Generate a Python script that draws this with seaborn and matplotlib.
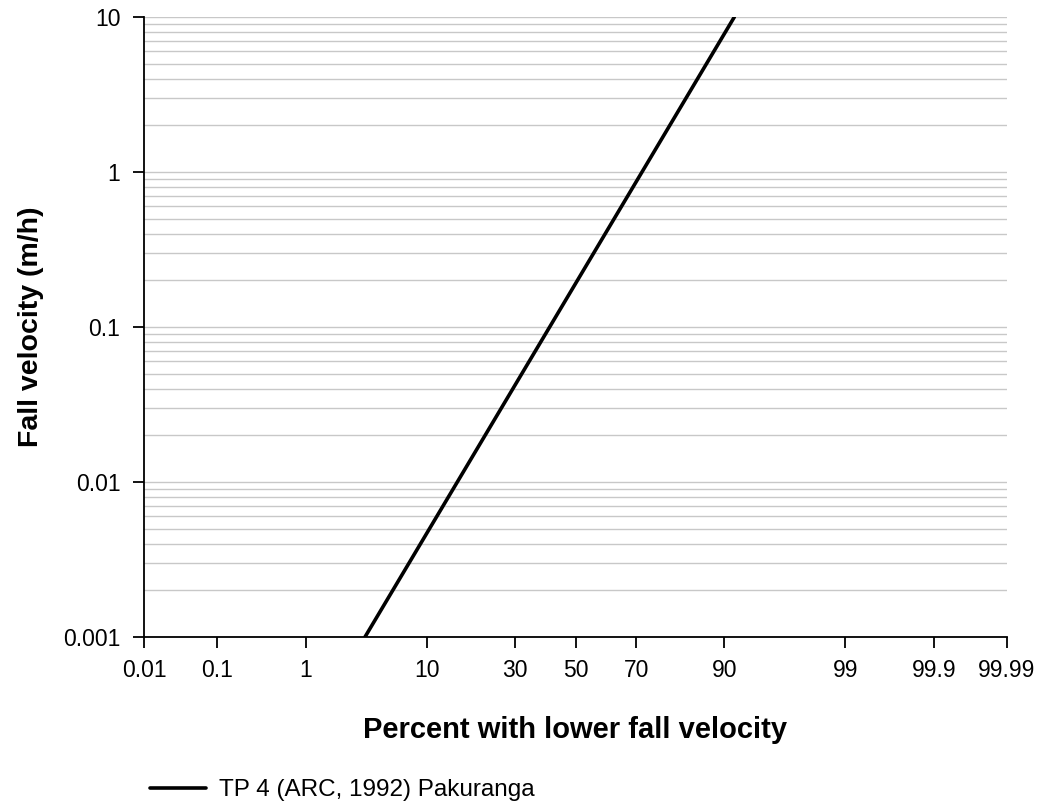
import numpy as np
import pandas as pd
import matplotlib
matplotlib.use("Agg")
import matplotlib.pyplot as plt
import seaborn as sns
from statistics import NormalDist
from matplotlib.ticker import FixedLocator, FixedFormatter, LogLocator, NullFormatter

# Data
percent = [3.48, 91.45]
velocity = [0.001, 10.0]
series_name = "TP 4 (ARC, 1992) Pakuranga"
x_ticks = [0.01, 0.1, 1, 10, 30, 50, 70, 90, 99, 99.9, 99.99]
x_tick_labels = ["0.01", "0.1", "1", "10", "30", "50", "70", "90", "99", "99.9", "99.99"]
y_ticks = [0.001, 0.01, 0.1, 1, 10]
y_tick_labels = ["0.001", "0.01", "0.1", "1", "10"]

df = pd.DataFrame({"percent": percent, "velocity": velocity, "series": series_name})

_nd = NormalDist()

def fwd(p):
    p = np.asarray(p, dtype=float)
    q = np.clip(p / 100.0, 1e-9, 1 - 1e-9)
    return np.vectorize(_nd.inv_cdf, otypes=[float])(q) if q.size else q

def inv(z):
    z = np.asarray(z, dtype=float)
    return 100.0 * np.vectorize(_nd.cdf, otypes=[float])(z) if z.size else z

sns.set_theme(style="white")
plt.rcParams["font.family"] = ["Liberation Sans", "DejaVu Sans"]
plt.rcParams["text.color"] = "black"
plt.rcParams["axes.labelcolor"] = "black"

fig = plt.figure(figsize=(10.44, 8.09), dpi=100)
ax = fig.add_axes([144 / 1044, 1 - 637 / 809, (1007 - 144) / 1044, (637 - 17) / 809])

sns.lineplot(data=df, x="percent", y="velocity", hue="series", palette=["black"],
             linewidth=2.6, ax=ax, legend=True)

ax.set_xscale("function", functions=(fwd, inv))
ax.set_yscale("log")
ax.set_xlim(0.01, 99.99)
ax.set_ylim(0.001, 10)

ax.xaxis.set_major_locator(FixedLocator(x_ticks))
ax.xaxis.set_major_formatter(FixedFormatter(x_tick_labels))
ax.xaxis.set_minor_locator(FixedLocator([]))
ax.yaxis.set_major_locator(FixedLocator(y_ticks))
ax.yaxis.set_major_formatter(FixedFormatter(y_tick_labels))
ax.yaxis.set_minor_locator(LogLocator(base=10, subs=np.arange(2, 10)))
ax.yaxis.set_minor_formatter(NullFormatter())

ax.grid(False)
ax.yaxis.grid(True, which="both", color="#c8c8c8", linewidth=1.0)
ax.set_axisbelow(True)

for s in ["top", "right"]:
    ax.spines[s].set_visible(False)
for s in ["left", "bottom"]:
    ax.spines[s].set_visible(True)
    ax.spines[s].set_color("black")
    ax.spines[s].set_linewidth(1.3)

ax.tick_params(axis="both", which="major", direction="out", length=8, width=1.3,
               color="black", labelsize=16.5, labelcolor="black",
               left=True, bottom=True)
ax.tick_params(axis="y", which="major", pad=9)
ax.tick_params(axis="x", which="major", pad=8)
ax.tick_params(axis="y", which="minor", length=0)

ax.set_xlabel("Percent with lower fall velocity", fontsize=21, fontweight="bold",
              labelpad=24, color="black")
ax.set_ylabel("Fall velocity (m/h)", fontsize=20.5, fontweight="bold",
              labelpad=14, color="black")

leg = ax.legend(loc="center left", bbox_to_anchor=(6 / 863, (637 - 790) / 620),
                frameon=False, fontsize=17.5, handlelength=2.3, handletextpad=0.55,
                borderaxespad=0, borderpad=0)
for h in leg.get_lines():
    h.set_linewidth(2.6)

fig.savefig("out.png", dpi=100)
